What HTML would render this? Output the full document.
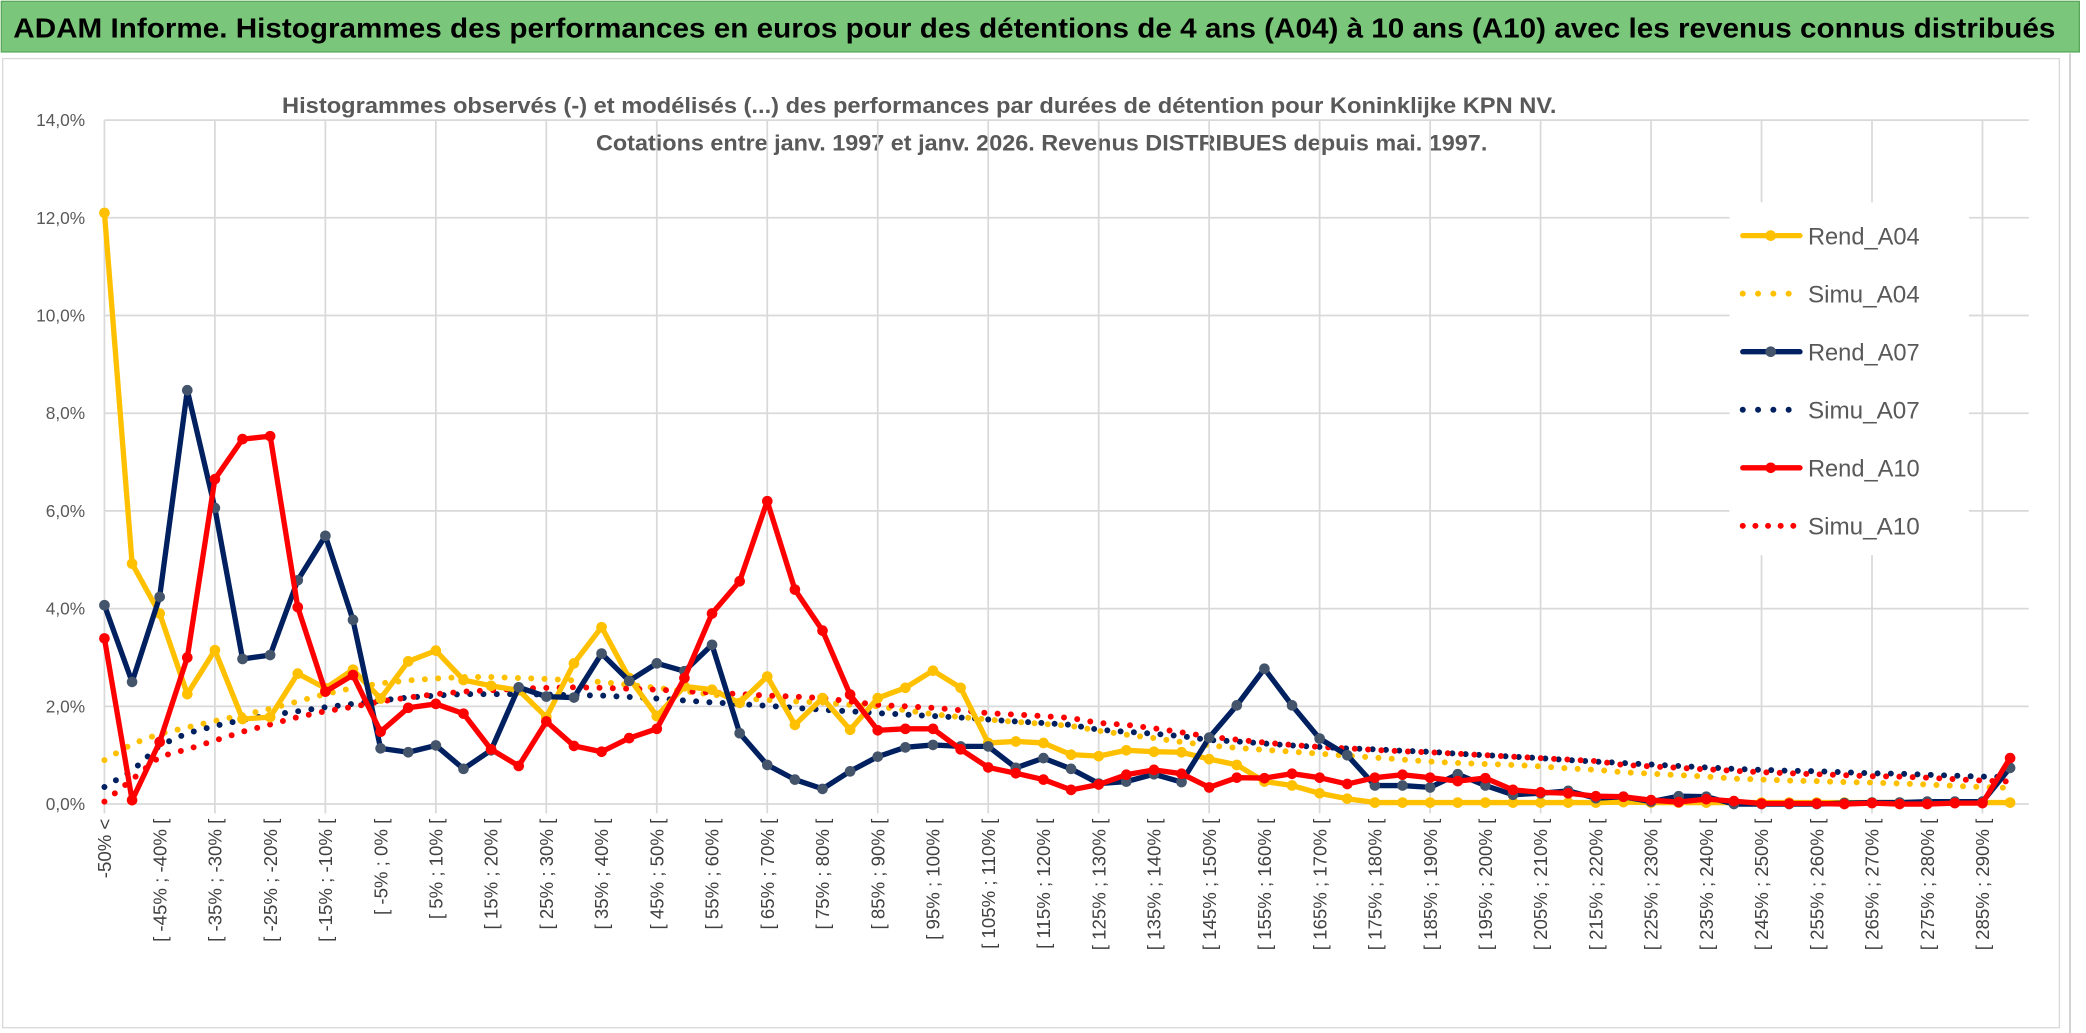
<!DOCTYPE html>
<html><head><meta charset="utf-8"><style>
html,body{margin:0;padding:0;background:#fff;}
svg{display:block;}
text{font-family:"Liberation Sans",sans-serif;}
</style></head><body>
<svg id="chart" width="2086" height="1033" viewBox="0 0 1568 776" preserveAspectRatio="none" xmlns="http://www.w3.org/2000/svg">
<rect x="0" y="0" width="1568" height="776" fill="#fff"/>
<rect x="1" y="1" width="1562" height="38" fill="#7ac67a" stroke="#5aa85a" stroke-width="1"/>
<text x="10" y="28" font-size="21" font-weight="bold" fill="#000" textLength="1535" lengthAdjust="spacingAndGlyphs">ADAM Informe. Histogrammes des performances en euros pour des détentions de 4 ans (A04) à 10 ans (A10) avec les revenus connus distribués</text>
<rect x="2" y="44" width="1546" height="728" fill="none" stroke="#d9d9d9" stroke-width="1"/>
<line x1="1556" y1="40" x2="1556" y2="776" stroke="#bfbfbf" stroke-width="1"/>
<text x="691" y="85" font-size="17" font-weight="bold" fill="#595959" text-anchor="middle" textLength="958" lengthAdjust="spacingAndGlyphs">Histogrammes observés (-) et modélisés (...) des performances par durées de détention pour Koninklijke KPN NV.</text>
<text x="783" y="113" font-size="17" font-weight="bold" fill="#595959" text-anchor="middle" textLength="670" lengthAdjust="spacingAndGlyphs">Cotations entre janv. 1997 et janv. 2026. Revenus DISTRIBUES depuis mai. 1997.</text>
<g id="grid"></g>
<g id="xlabels"></g>
<g id="ylabels"></g>
<g id="series"></g>
<g id="legend"></g>
</svg>
<script>
const categories = (function(){const c=["-50% <"];for(let a=-50;a<300;a+=5){c.push("[ "+a+"% ; "+(a+5)+"% [");}return c.slice(0,70);})();
const yTicks = [0,2,4,6,8,10,12,14];
const yTickLabels = ["0,0%","2,0%","4,0%","6,0%","8,0%","10,0%","12,0%","14,0%"];
const rendA04 = [12.1,4.92,3.9,2.25,3.15,1.74,1.78,2.67,2.37,2.75,2.16,2.92,3.14,2.54,2.42,2.33,1.78,2.88,3.62,2.58,1.8,2.41,2.34,2.07,2.61,1.62,2.17,1.52,2.17,2.38,2.73,2.38,1.25,1.28,1.25,1.01,0.98,1.1,1.07,1.06,0.92,0.8,0.46,0.38,0.22,0.11,0.03,0.03,0.03,0.03,0.03,0.03,0.03,0.03,0.03,0.04,0.03,0.03,0.03,0.03,0.03,0.03,0.03,0.03,0.03,0.03,0.03,0.03,0.03,0.03];
const simuA04 = [0.9,1.23,1.44,1.57,1.7,1.82,1.95,2.1,2.25,2.38,2.47,2.53,2.57,2.6,2.6,2.58,2.56,2.53,2.5,2.44,2.38,2.31,2.24,2.17,2.13,2.1,2.08,2.03,2.0,1.92,1.84,1.78,1.73,1.68,1.64,1.6,1.5,1.42,1.35,1.27,1.2,1.15,1.11,1.07,1.03,0.99,0.95,0.91,0.87,0.84,0.82,0.8,0.77,0.73,0.7,0.65,0.62,0.59,0.56,0.52,0.5,0.48,0.47,0.45,0.44,0.42,0.4,0.37,0.35,0.33];
const rendA07 = [4.07,2.5,4.24,8.47,6.06,2.97,3.05,4.58,5.49,3.77,1.14,1.06,1.2,0.72,1.1,2.39,2.2,2.18,3.08,2.52,2.88,2.72,3.26,1.45,0.8,0.5,0.31,0.67,0.97,1.16,1.21,1.18,1.18,0.74,0.94,0.72,0.42,0.46,0.61,0.45,1.36,2.02,2.77,2.02,1.34,1.0,0.38,0.38,0.34,0.61,0.38,0.19,0.22,0.27,0.12,0.15,0.05,0.16,0.15,0,0,0,0,0.02,0.03,0.03,0.05,0.05,0.05,0.74];
const simuA07 = [0.35,0.68,1.2,1.45,1.6,1.72,1.82,1.9,1.98,2.05,2.12,2.18,2.22,2.25,2.25,2.25,2.24,2.23,2.22,2.19,2.16,2.12,2.08,2.05,2.01,1.97,1.93,1.9,1.86,1.83,1.8,1.77,1.73,1.69,1.66,1.62,1.52,1.48,1.44,1.39,1.31,1.28,1.24,1.2,1.17,1.14,1.12,1.09,1.07,1.03,1.0,0.97,0.94,0.9,0.87,0.84,0.81,0.78,0.75,0.72,0.7,0.68,0.67,0.65,0.63,0.62,0.6,0.58,0.56,0.55];
const rendA10 = [3.39,0.08,1.27,3.0,6.65,7.47,7.53,4.03,2.3,2.64,1.48,1.97,2.05,1.85,1.12,0.78,1.69,1.19,1.07,1.35,1.54,2.58,3.9,4.56,6.2,4.39,3.55,2.24,1.51,1.54,1.54,1.12,0.75,0.63,0.5,0.29,0.4,0.6,0.7,0.62,0.34,0.54,0.53,0.62,0.54,0.41,0.54,0.6,0.54,0.47,0.53,0.29,0.24,0.22,0.16,0.15,0.08,0.04,0.1,0.06,0.01,0.01,0.01,0.0,0.02,0.0,0.0,0.02,0.02,0.94];
const simuA10 = [0.05,0.5,0.97,1.12,1.3,1.48,1.63,1.78,1.9,1.99,2.1,2.18,2.25,2.3,2.33,2.36,2.38,2.39,2.38,2.36,2.34,2.31,2.28,2.25,2.22,2.2,2.17,2.1,2.03,2.0,1.97,1.92,1.86,1.83,1.8,1.76,1.66,1.62,1.55,1.47,1.38,1.32,1.26,1.21,1.17,1.14,1.11,1.08,1.06,1.03,1.0,0.97,0.94,0.91,0.88,0.8,0.77,0.74,0.71,0.68,0.65,0.63,0.61,0.59,0.57,0.56,0.54,0.51,0.48,0.46];
const seriesNames = ["Rend_A04","Simu_A04","Rend_A07","Simu_A07","Rend_A10","Simu_A10"];

const NS="http://www.w3.org/2000/svg";
const X0=78.5, DX=20.76, Y0=604, PY=36.7;
function xs(i){return X0+i*DX;}
function ys(v){return Y0-v*PY;}
function mk(tag,parent){const e=document.createElementNS(NS,tag);parent.appendChild(e);return e;}

const grid=document.getElementById('grid');
yTicks.forEach((t,k)=>{
  const l=mk('line',grid);
  
  
  l.setAttribute('x1',X0);l.setAttribute('x2',1525);l.setAttribute('y1',ys(t));l.setAttribute('y2',ys(t));
  l.setAttribute('stroke','#d9d9d9');l.setAttribute('stroke-width','1.3');
  const tx=mk('text',document.getElementById('ylabels'));
  
  
  tx.setAttribute('x',64);tx.setAttribute('y',ys(t)+4.5);tx.setAttribute('text-anchor','end');
  tx.setAttribute('font-size','13');tx.setAttribute('fill','#595959');
  tx.textContent=yTickLabels[k];
});
for(let i=0;i<categories.length;i+=4){
  const l=mk('line',grid);
  
  
  l.setAttribute('x1',xs(i));l.setAttribute('x2',xs(i));l.setAttribute('y1',ys(14));l.setAttribute('y2',Y0+7);
  l.setAttribute('stroke','#d9d9d9');l.setAttribute('stroke-width','1.3');
}
const xl=document.getElementById('xlabels');
categories.forEach((c,i)=>{
  if(i%2) return;
  const t=mk('text',xl);
  
  
  const x=xs(i)+5, y=615;
  t.setAttribute('x',x);t.setAttribute('y',y);
  t.setAttribute('transform','rotate(-90 '+x+' '+y+')');
  t.setAttribute('text-anchor','end');t.setAttribute('font-size','14');t.setAttribute('fill','#404040');
  t.textContent=c;
});

const sg=document.getElementById('series');
function dotted(data,color,name){
  const p=mk('path',sg);
  
  
  p.setAttribute('d',data.map((v,i)=>(i?'L':'M')+xs(i).toFixed(1)+' '+ys(v).toFixed(1)).join(''));
  p.setAttribute('fill','none');p.setAttribute('stroke',color);p.setAttribute('stroke-width','4.5');
  p.setAttribute('stroke-linecap','round');p.setAttribute('stroke-dasharray','0 10');
}
function solid(data,color,mcolor,name){
  const p=mk('path',sg);
  
  
  p.setAttribute('d',data.map((v,i)=>(i?'L':'M')+xs(i).toFixed(1)+' '+ys(v).toFixed(1)).join(''));
  p.setAttribute('fill','none');p.setAttribute('stroke',color);p.setAttribute('stroke-width','4');
  p.setAttribute('stroke-linejoin','round');
  data.forEach((v,i)=>{
    const c=mk('circle',sg);
    
    
    c.setAttribute('cx',xs(i));c.setAttribute('cy',ys(v));c.setAttribute('r','4');c.setAttribute('fill',mcolor);
  });
}
dotted(simuA04,'#ffc000','simu-a04-line');
dotted(simuA07,'#002060','simu-a07-line');
dotted(simuA10,'#ff0000','simu-a10-line');
solid(rendA04,'#ffc000','#ffc000','rend-a04-line');
solid(rendA07,'#002060','#44546a','rend-a07-line');
solid(rendA10,'#ff0000','#ff0000','rend-a10-line');
const axis=mk('line',sg);



const lg=document.getElementById('legend');
const bg=mk('rect',lg);


bg.setAttribute('x',1300);bg.setAttribute('y',152);bg.setAttribute('width',180);bg.setAttribute('height',265);bg.setAttribute('fill','#fff');
const lgColors=['#ffc000','#ffc000','#002060','#002060','#ff0000','#ff0000'];
const lgMark=['#ffc000',null,'#44546a',null,'#ff0000',null];
seriesNames.forEach((n,k)=>{
  const y=177+k*43.6;
  const g=mk('g',lg);
  
  
  const l=mk('line',g);
  l.setAttribute('x1',1310);l.setAttribute('x2',k%2?1354:1353);l.setAttribute('y1',y);l.setAttribute('y2',y);
  l.setAttribute('stroke',lgColors[k]);
  if(k%2){l.setAttribute('stroke-width','4.5');l.setAttribute('stroke-linecap','round');l.setAttribute('stroke-dasharray','0 '+(k==5?9.5:11.5));l.setAttribute('x2',k==5?1350:1345);}
  else{l.setAttribute('stroke-width','4');l.setAttribute('stroke-linecap','round');
    const c=mk('circle',g);c.setAttribute('cx',1331);c.setAttribute('cy',y);c.setAttribute('r',4);c.setAttribute('fill',lgMark[k]);}
  const t=mk('text',g);
  t.setAttribute('x',1359);t.setAttribute('y',y+6.5);t.setAttribute('font-size','18');t.setAttribute('fill','#595959');
  t.setAttribute('textLength','84');t.setAttribute('lengthAdjust','spacingAndGlyphs');
  t.textContent=n;
});
</script>
</body></html>
